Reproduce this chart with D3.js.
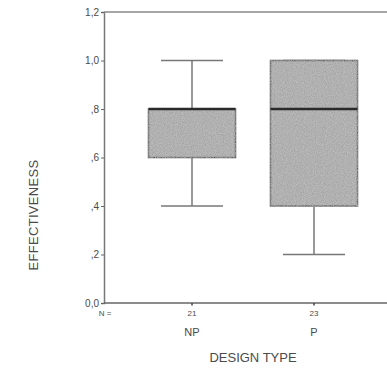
<!DOCTYPE html>
<html>
<head>
<meta charset="utf-8">
<script src="https://d3js.org/d3.v7.min.js"></script>
<style>
  body { margin: 0; background: #fff; }
  text { font-family: "Liberation Sans", Arial, sans-serif; fill: #4a4a4a; }
</style>
</head>
<body>
<div id="chart"></div>
<script>
// chart data
var categories = ["NP", "P"];
var counts = [21, 23];
var lowWhisker = [0.4, 0.2];
var q1 = [0.6, 0.4];
var medians = [0.8, 0.8];
var q3 = [0.8, 1.0];
var highWhisker = [1.0, 1.0];
var yTicks = [0, 0.2, 0.4, 0.6, 0.8, 1.0, 1.2];
var yTickLabels = ["0,0", ",2", ",4", ",6", ",8", "1,0", "1,2"];

var width = 387, height = 368;

var svg = d3.select("#chart").append("svg")
    .attr("width", width)
    .attr("height", height);

// scales
var y = d3.scaleLinear().domain([0, 1.2]).range([303, 12]);
var x = d3.scalePoint().domain(categories).range([192, 314]);
var left = 104;

// noise texture for the boxes
var defs = svg.append("defs");
var filt = defs.append("filter").attr("id", "grain");
filt.append("feTurbulence").attr("type", "fractalNoise").attr("baseFrequency", 0.9).attr("numOctaves", 2).attr("result", "n");
filt.append("feColorMatrix").attr("in", "n").attr("type", "matrix")
    .attr("values", "0 0 0 0 0.62  0 0 0 0 0.62  0 0 0 0 0.62  0 0 0 -0.9 0.75").attr("result", "g");
filt.append("feComposite").attr("in", "g").attr("in2", "SourceGraphic").attr("operator", "in").attr("result", "g2");
filt.append("feMerge").selectAll("feMergeNode").data(["SourceGraphic", "g2"]).enter()
    .append("feMergeNode").attr("in", function(d) { return d; });

// y axis
var yAxis = d3.axisLeft(y).tickValues(yTicks).tickSize(3).tickPadding(2)
    .tickFormat(function(d, i) { return yTickLabels[i]; });
var gy = svg.append("g")
    .attr("transform", "translate(" + left + ",0)")
    .call(yAxis);
gy.select(".domain").attr("stroke", "#777").attr("stroke-width", 1.5);
gy.selectAll(".tick line").attr("stroke", "#666");
gy.selectAll(".tick text").style("font-size", "10px").attr("fill", "#555");

// top frame line and bottom axis line
svg.append("line")
    .attr("x1", left).attr("x2", width)
    .attr("y1", y(1.2)).attr("y2", y(1.2))
    .attr("stroke", "#888").attr("stroke-width", 1.5);
svg.append("line")
    .attr("x1", left).attr("x2", width)
    .attr("y1", y(0)).attr("y2", y(0))
    .attr("stroke", "#666").attr("stroke-width", 1.5);

// x ticks with N counts
var xg = svg.selectAll(".xt").data(categories).enter().append("g")
    .attr("class", "xt")
    .attr("transform", function(d) { return "translate(" + x(d) + "," + y(0) + ")"; });
xg.append("line").attr("y1", 0).attr("y2", 2.5).attr("stroke", "#444").attr("stroke-width", 1.5);
xg.append("text")
    .attr("y", 13).attr("text-anchor", "middle")
    .style("font-size", "8px")
    .text(function(d, i) { return counts[i]; });
xg.append("text")
    .attr("y", 33).attr("text-anchor", "middle")
    .style("font-size", "11px")
    .text(function(d) { return d; });

svg.append("text")
    .attr("x", 105).attr("y", 316).attr("text-anchor", "middle")
    .style("font-size", "8px")
    .text("N =");

// boxes
var boxW = 87, capW = 62;
var bx = svg.selectAll(".box").data(categories).enter().append("g").attr("class", "box");

bx.append("line")
    .attr("x1", function(d) { return x(d); }).attr("x2", function(d) { return x(d); })
    .attr("y1", function(d, i) { return y(lowWhisker[i]); })
    .attr("y2", function(d, i) { return y(highWhisker[i]); })
    .attr("stroke", "#777").attr("stroke-width", 1.5);
bx.append("line")
    .attr("x1", function(d) { return x(d) - capW / 2; }).attr("x2", function(d) { return x(d) + capW / 2; })
    .attr("y1", function(d, i) { return y(lowWhisker[i]); })
    .attr("y2", function(d, i) { return y(lowWhisker[i]); })
    .attr("stroke", "#777").attr("stroke-width", 1.5);
bx.append("line")
    .attr("x1", function(d) { return x(d) - capW / 2; }).attr("x2", function(d) { return x(d) + capW / 2; })
    .attr("y1", function(d, i) { return y(highWhisker[i]); })
    .attr("y2", function(d, i) { return y(highWhisker[i]); })
    .attr("stroke", "#777").attr("stroke-width", 1.5);
bx.append("rect")
    .attr("x", function(d) { return x(d) - boxW / 2; })
    .attr("width", boxW)
    .attr("y", function(d, i) { return y(q3[i]); })
    .attr("height", function(d, i) { return y(q1[i]) - y(q3[i]); })
    .attr("fill", "#a2a2a2")
    .attr("filter", "url(#grain)")
    .attr("stroke", "#4a4a4a").attr("stroke-width", 1.5);
bx.append("line")
    .attr("x1", function(d) { return x(d) - boxW / 2; }).attr("x2", function(d) { return x(d) + boxW / 2; })
    .attr("y1", function(d, i) { return y(medians[i]); })
    .attr("y2", function(d, i) { return y(medians[i]); })
    .attr("stroke", "#2a2a2a").attr("stroke-width", 2.5);

// axis titles
svg.append("text")
    .attr("x", 253).attr("y", 362).attr("text-anchor", "middle")
    .style("font-size", "13px")
    .text("DESIGN TYPE");
svg.append("text")
    .attr("transform", "translate(38,215) rotate(-90)")
    .attr("text-anchor", "middle")
    .style("font-size", "13px")
    .style("letter-spacing", "0.3px")
    .text("EFFECTIVENESS");
</script>
</body>
</html>
